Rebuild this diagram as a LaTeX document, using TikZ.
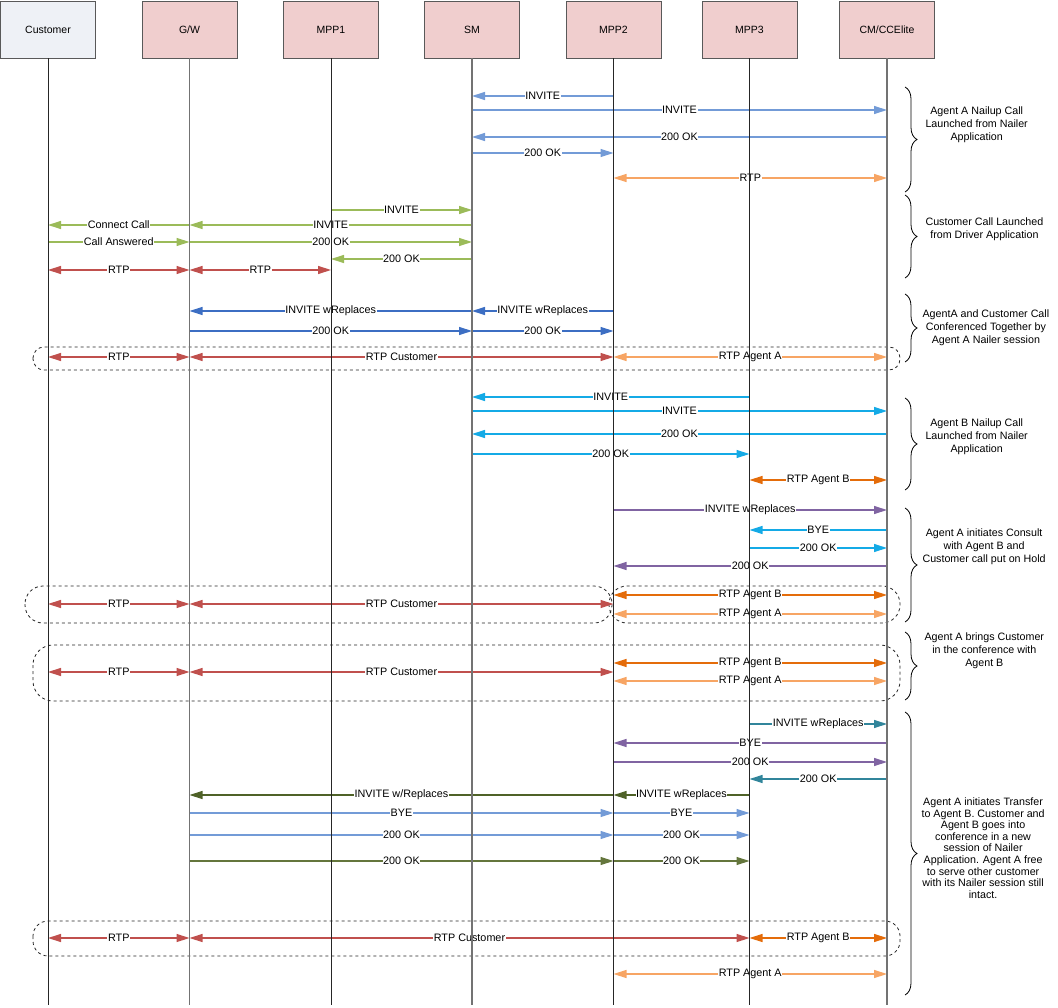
\documentclass[tikz,border=0pt]{standalone}
\usepackage{fontspec}
\setmainfont{Liberation Sans}
\usepackage{tikz}
\usetikzlibrary{arrows.meta, positioning, decorations.pathreplacing}
\definecolor{hdrpink}{RGB}{240,206,206}
\definecolor{hdrgrey}{RGB}{238,241,246}
\definecolor{sigblue}{RGB}{115,155,215}
\definecolor{siggreen}{RGB}{155,187,89}
\definecolor{sigdblue}{RGB}{60,110,195}
\definecolor{sigcyan}{RGB}{20,170,230}
\definecolor{sigpurple}{RGB}{128,100,162}
\definecolor{sigteal}{RGB}{49,133,155}
\definecolor{sigolive}{RGB}{79,98,40}
\definecolor{sigolivelt}{RGB}{100,118,60}
\definecolor{rtpred}{RGB}{192,80,77}
\definecolor{rtpa}{RGB}{247,165,100}
\definecolor{rtpb}{RGB}{228,108,10}
\tikzset{
  head/.style={rectangle, draw=black!65, fill=hdrpink,
    minimum width=95pt, minimum height=57pt, inner sep=0pt,
    font=\fontsize{10.5}{12}\selectfont, line width=0.8pt},
  lifethick/.style={line width=1.3pt, color=black!55},
  lifethin/.style={line width=0.8pt, color=black!85},
  msg/.style={-{Triangle[length=13pt,width=8pt]}, line width=1.2pt},
  rtp/.style={{Triangle[length=13pt,width=8pt]}-{Triangle[length=13pt,width=8pt]}, line width=1.4pt},
  lbl/.style={fill=white, inner sep=0.6pt, text=black,
    font=\fontsize{10.8}{12}\selectfont},
  grp/.style={dashed, color=black!85, line width=0.8pt},
  note/.style={anchor=west, align=center, font=\fontsize{10.7}{12.8}\selectfont},
  curly/.style={decorate, decoration={brace, amplitude=12pt}, line width=0.8pt}
}

\begin{document}
\begin{tikzpicture}[x=1pt, y=-1pt]
  \useasboundingbox (0,0) rectangle (1058,1008);

  % Lifeline heads
  \node[head, fill=hdrgrey] (cust) at (48,29.5) {Customer};
  \node[head] (gw) at (189.5,29.5) {G/W};
  \node[head] (mpp1) at (331,29.5) {MPP1};
  \node[head] (sm) at (472,29.5) {SM};
  \node[head] (mpp2) at (613.5,29.5) {MPP2};
  \node[head] (mpp3) at (749.5,29.5) {MPP3};
  \node[head] (cm) at (887,29.5) {CM/CCElite};

  % Agent A nailup call
  \draw[msg, sigblue] (mpp2 |- 0,96) -- node[lbl]{INVITE} (sm |- 0,96);
  \draw[msg, sigblue] (sm |- 0,110) -- node[lbl]{INVITE} (cm |- 0,110);
  \draw[msg, sigblue] (cm |- 0,137) -- node[lbl]{200 OK} (sm |- 0,137);
  \draw[msg, sigblue] (sm |- 0,153) -- node[lbl]{200 OK} (mpp2 |- 0,153);
  \draw[rtp, rtpa] (mpp2 |- 0,178) -- node[lbl]{RTP} (cm |- 0,178);
  \draw[curly] (905,87) -- (905,192);
  \node[note] (noteA) at (922,125) {Agent A Nailup Call\\Launched from Nailer\\Application};

  % Customer call from driver
  \draw[msg, siggreen] (mpp1 |- 0,210) -- node[lbl]{INVITE} (sm |- 0,210);
  \draw[msg, siggreen] (sm |- 0,225) -- node[lbl]{INVITE} (gw |- 0,225);
  \draw[msg, siggreen] (gw |- 0,225) -- node[lbl]{Connect Call} (cust |- 0,225);
  \draw[msg, siggreen] (cust |- 0,242) -- node[lbl]{Call Answered} (gw |- 0,242);
  \draw[msg, siggreen] (gw |- 0,242) -- node[lbl]{200 OK} (sm |- 0,242);
  \draw[msg, siggreen] (sm |- 0,259) -- node[lbl]{200 OK} (mpp1 |- 0,259);
  \draw[rtp, rtpred] (cust |- 0,270) -- node[lbl]{RTP} (gw |- 0,270);
  \draw[rtp, rtpred] (gw |- 0,270) -- node[lbl]{RTP} (mpp1 |- 0,270);
  \draw[curly] (905,195) -- (905,278);
  \node[note] (noteB) at (922,229) {Customer Call Launched\\from Driver Application};

  % Conference A and customer
  \draw[msg, sigdblue] (sm |- 0,311) -- node[lbl]{INVITE wReplaces} (gw |- 0,311);
  \draw[msg, sigdblue] (mpp2 |- 0,311) -- node[lbl]{INVITE wReplaces} (sm |- 0,311);
  \draw[msg, sigdblue] (gw |- 0,331) -- node[lbl]{200 OK} (sm |- 0,331);
  \draw[msg, sigdblue] (sm |- 0,331) -- node[lbl]{200 OK} (mpp2 |- 0,331);
  \draw[grp, rounded corners=11pt] (33,347) rectangle (900,370);
  \draw[rtp, rtpred] (cust |- 0,357) -- node[lbl]{RTP} (gw |- 0,357);
  \draw[rtp, rtpred] (gw |- 0,357) -- node[lbl]{RTP Customer} (mpp2 |- 0,357);
  \draw[rtp, rtpa] (mpp2 |- 0,357) -- node[lbl]{RTP Agent A} (cm |- 0,357);
  \draw[curly] (905,294) -- (905,362);
  \node[note] (noteC) at (919,328) {AgentA and Customer Call\\Conferenced Together by\\Agent A Nailer session};

  % Agent B nailup call
  \draw[msg, sigcyan] (mpp3 |- 0,397) -- node[lbl]{INVITE} (sm |- 0,397);
  \draw[msg, sigcyan] (sm |- 0,411) -- node[lbl]{INVITE} (cm |- 0,411);
  \draw[msg, sigcyan] (cm |- 0,434) -- node[lbl]{200 OK} (sm |- 0,434);
  \draw[msg, sigcyan] (sm |- 0,454) -- node[lbl]{200 OK} (mpp3 |- 0,454);
  \draw[rtp, rtpb] (mpp3 |- 0,480) -- node[lbl]{RTP Agent B} (cm |- 0,480);
  \draw[curly] (905,398) -- (905,490);
  \node[note] (noteD) at (922,437) {Agent B Nailup Call\\Launched from Nailer\\Application};

  % Consult, customer on hold
  \draw[msg, sigpurple] (mpp2 |- 0,510) -- node[lbl]{INVITE wReplaces} (cm |- 0,510);
  \draw[msg, sigcyan] (cm |- 0,530) -- node[lbl]{BYE} (mpp3 |- 0,530);
  \draw[msg, sigcyan] (mpp3 |- 0,548) -- node[lbl]{200 OK} (cm |- 0,548);
  \draw[msg, sigpurple] (cm |- 0,566) -- node[lbl]{200 OK} (mpp2 |- 0,566);
  \draw[grp, rounded corners=18pt] (25,586) rectangle (612,623);
  \draw[grp, rounded corners=18pt] (609,586) rectangle (900,623);
  \draw[rtp, rtpb] (mpp2 |- 0,595) -- node[lbl]{RTP Agent B} (cm |- 0,595);
  \draw[rtp, rtpred] (cust |- 0,604) -- node[lbl]{RTP} (gw |- 0,604);
  \draw[rtp, rtpred] (gw |- 0,604) -- node[lbl]{RTP Customer} (mpp2 |- 0,604);
  \draw[rtp, rtpa] (mpp2 |- 0,614) -- node[lbl]{RTP Agent A} (cm |- 0,614);
  \draw[curly] (905,508) -- (905,622);
  \node[note] (noteE) at (919,547) {Agent A initiates Consult\\with Agent B and\\Customer call put on Hold};

  % Customer into conference
  \draw[grp, rounded corners=20pt] (33,645) rectangle (900,701);
  \draw[rtp, rtpb] (mpp2 |- 0,663) -- node[lbl]{RTP Agent B} (cm |- 0,663);
  \draw[rtp, rtpred] (cust |- 0,672) -- node[lbl]{RTP} (gw |- 0,672);
  \draw[rtp, rtpred] (gw |- 0,672) -- node[lbl]{RTP Customer} (mpp2 |- 0,672);
  \draw[rtp, rtpa] (mpp2 |- 0,681) -- node[lbl]{RTP Agent A} (cm |- 0,681);
  \draw[curly] (905,632) -- (905,700);
  \node[note] (noteF) at (921,651) {Agent A brings Customer\\in the conference with\\Agent B};

  % Transfer to agent B
  \draw[msg, sigteal] (mpp3 |- 0,724) -- node[lbl]{INVITE wReplaces} (cm |- 0,724);
  \draw[msg, sigpurple] (cm |- 0,743) -- node[lbl]{BYE} (mpp2 |- 0,743);
  \draw[msg, sigpurple] (mpp2 |- 0,762) -- node[lbl]{200 OK} (cm |- 0,762);
  \draw[msg, sigteal] (cm |- 0,779) -- node[lbl]{200 OK} (mpp3 |- 0,779);
  \draw[msg, sigolive] (mpp3 |- 0,795) -- node[lbl]{INVITE wReplaces} (mpp2 |- 0,795);
  \draw[msg, sigolive] (mpp2 |- 0,795) -- node[lbl]{INVITE w/Replaces} (gw |- 0,795);
  \draw[msg, sigblue] (gw |- 0,813) -- node[lbl]{BYE} (mpp2 |- 0,813);
  \draw[msg, sigblue] (mpp2 |- 0,813) -- node[lbl]{BYE} (mpp3 |- 0,813);
  \draw[msg, sigblue] (gw |- 0,835) -- node[lbl]{200 OK} (mpp2 |- 0,835);
  \draw[msg, sigblue] (mpp2 |- 0,835) -- node[lbl]{200 OK} (mpp3 |- 0,835);
  \draw[msg, sigolivelt] (gw |- 0,861) -- node[lbl]{200 OK} (mpp2 |- 0,861);
  \draw[msg, sigolivelt] (mpp2 |- 0,861) -- node[lbl]{200 OK} (mpp3 |- 0,861);
  \draw[grp, rounded corners=15pt] (33,921) rectangle (900,956);
  \draw[rtp, rtpred] (cust |- 0,938) -- node[lbl]{RTP} (gw |- 0,938);
  \draw[rtp, rtpred] (gw |- 0,938) -- node[lbl]{RTP Customer} (mpp3 |- 0,938);
  \draw[rtp, rtpb] (mpp3 |- 0,938) -- node[lbl]{RTP Agent B} (cm |- 0,938);
  \draw[rtp, rtpa] (mpp2 |- 0,974) -- node[lbl]{RTP Agent A} (cm |- 0,974);
  \draw[curly] (905,712) -- (905,995);
  \node[note, font=\fontsize{10.7}{11.6}\selectfont] (noteG) at (918,848) {Agent A initiates Transfer\\to Agent B. Customer and\\Agent B goes into\\conference in a new\\session of Nailer\\Application. Agent A free\\to serve other customer\\with its Nailer session still\\intact.};

  % Lifelines on top
  \draw[lifethin] (cust.south) -- (cust.south |- 0,1005);
  \draw[lifethick] (gw.south) -- (gw.south |- 0,1005);
  \draw[lifethin] (mpp1.south) -- (mpp1.south |- 0,1005);
  \draw[lifethick] (sm.south) -- (sm.south |- 0,1005);
  \draw[lifethin] (mpp2.south) -- (mpp2.south |- 0,1005);
  \draw[lifethin] (mpp3.south) -- (mpp3.south |- 0,1005);
  \draw[lifethick] (cm.south) -- (cm.south |- 0,1005);
\end{tikzpicture}
\end{document}
